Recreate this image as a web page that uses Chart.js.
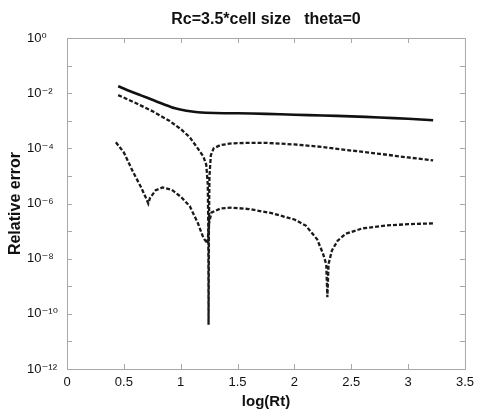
<!DOCTYPE html>
<html>
<head>
<meta charset="utf-8">
<script src="https://cdn.jsdelivr.net/npm/chart.js@4.4.1/dist/chart.umd.min.js"></script>
<style>
html,body{margin:0;padding:0;background:#fff;}
</style>
</head>
<body>
<canvas id="myChart" width="480" height="415"></canvas>
<script>
// x = log(Rt), y values are log10 of the relative error
var xSolid   = [0.45, 0.55, 0.65, 0.75, 0.85, 0.95, 1.05, 1.15, 1.3, 1.5, 1.75, 2.0, 2.25, 2.5, 2.75, 3.0, 3.22];
var logSolid = [-1.75, -1.92, -2.08, -2.24, -2.40, -2.55, -2.64, -2.69, -2.72, -2.73, -2.75, -2.78, -2.81, -2.84, -2.88, -2.93, -2.98];

var xUpper   = [0.45, 0.6, 0.75, 0.9, 1.0, 1.08, 1.15, 1.2, 1.225, 1.238, 1.243, 1.245, 1.248, 1.253, 1.265, 1.29, 1.35, 1.45, 1.6, 1.75, 2.0, 2.25, 2.5, 2.75, 3.0, 3.22];
var logUpper = [-2.07, -2.35, -2.65, -3.0, -3.3, -3.6, -4.0, -4.3, -4.6, -5.3, -7.0, -10.4, -7.0, -5.0, -4.25, -4.0, -3.88, -3.82, -3.8, -3.8, -3.86, -3.95, -4.08, -4.2, -4.33, -4.44];

var xLower   = [0.43, 0.5, 0.58, 0.65, 0.7, 0.715, 0.73, 0.78, 0.84, 0.92, 1.0, 1.08, 1.15, 1.2, 1.235, 1.25, 1.27, 1.35, 1.45, 1.6, 1.8, 2.0, 2.1, 2.2, 2.25, 2.28, 2.29, 2.3, 2.33, 2.38, 2.45, 2.6, 2.8, 3.0, 3.22];
var logLower = [-3.78, -4.15, -4.85, -5.4, -5.85, -6.0, -5.8, -5.52, -5.42, -5.5, -5.75, -6.1, -6.7, -7.25, -7.45, -6.7, -6.33, -6.18, -6.15, -6.2, -6.35, -6.58, -6.8, -7.3, -7.8, -8.2, -9.4, -8.2, -7.7, -7.35, -7.1, -6.9, -6.8, -6.75, -6.72];

var yDecades = [0, -1, -2, -3, -4, -5, -6, -7, -8, -9, -10, -11, -12];
var yLabels  = {'0':'10\u2070', '-2':'10\u207B\u00B2', '-4':'10\u207B\u2074', '-6':'10\u207B\u2076',
                '-8':'10\u207B\u2078', '-10':'10\u207B\u00B9\u2070', '-12':'10\u207B\u00B9\u00B2'};

var FONT = "'Liberation Sans', 'DejaVu Sans', sans-serif";

// turn x / log10 arrays into chart points
var toPoints = function(xs, logs){
	var pts = [];
	for (var i = 0; i < xs.length; i++) {
		pts.push({x: xs[i], y: Math.pow(10, logs[i])});
	}
	return pts;
};

// box round the plot with small inward ticks on all four sides
var boxPlugin = {
	id: 'box',
	beforeDatasetsDraw: function(chart){
		var c = chart.ctx, a = chart.chartArea;
		var xs = chart.scales.x, ys = chart.scales.y;
		c.save();
		c.strokeStyle = '#a8a8a8';
		c.lineWidth = 1;
		c.strokeRect(a.left + 0.5, a.top + 0.5, a.right - a.left, a.bottom - a.top);
		c.beginPath();
		for (var v = 0; v <= 3.5; v += 0.5) {
			var px = Math.round(xs.getPixelForValue(v)) + 0.5;
			c.moveTo(px, a.bottom); c.lineTo(px, a.bottom - 5);
			c.moveTo(px, a.top); c.lineTo(px, a.top + 5);
		}
		yDecades.forEach(function(e){
			var py = Math.round(ys.getPixelForValue(Math.pow(10, e))) + 0.5;
			c.moveTo(a.left, py); c.lineTo(a.left + 5, py);
			c.moveTo(a.right, py); c.lineTo(a.right - 5, py);
		});
		c.stroke();
		c.restore();
	}
};

var ctx = document.getElementById('myChart');
new Chart(ctx, {
	type: 'line',
	data: {
		datasets: [
			{data: toPoints(xSolid, logSolid), borderColor: '#111', borderWidth: 2.6, pointRadius: 0, tension: 0.3},
			{data: toPoints(xUpper, logUpper), borderColor: '#1a1a1a', borderWidth: 2.3, borderDash: [4, 2], pointRadius: 0, tension: 0},
			{data: toPoints(xLower, logLower), borderColor: '#1a1a1a', borderWidth: 2.3, borderDash: [4, 2], pointRadius: 0, tension: 0}
		]
	},
	options: {
		responsive: false,
		animation: false,
		layout: {padding: {left: 27, right: 13, top: 0, bottom: 0}},
		plugins: {
			legend: {display: false},
			tooltip: {enabled: false},
			title: {
				display: true,
				fullSize: false,
				text: 'Rc=3.5*cell size   theta=0',
				color: '#111',
				font: {family: FONT, size: 16, weight: 'bold'},
				padding: {top: 10.4, bottom: 8.4}
			}
		},
		scales: {
			x: {
				type: 'linear',
				min: 0, max: 3.5,
				grid: {display: false, drawTicks: false},
				border: {display: false},
				afterBuildTicks: function(s){
					s.ticks = [0, 0.5, 1, 1.5, 2, 2.5, 3, 3.5].map(function(v){ return {value: v}; });
				},
				ticks: {
					color: '#111', padding: 6, maxRotation: 0, autoSkip: false,
					font: {family: FONT, size: 13},
					callback: function(v){ return String(v); }
				},
				title: {display: true, text: 'log(Rt)', color: '#111',
					font: {family: FONT, size: 15, weight: 'bold'}, padding: {top: 0, bottom: 4}},
				afterFit: function(s){ s.height = 46; }
			},
			y: {
				type: 'logarithmic',
				min: 1e-12, max: 1,
				grid: {display: false, drawTicks: false},
				border: {display: false},
				afterBuildTicks: function(s){
					s.ticks = yDecades.map(function(e){ return {value: Math.pow(10, e)}; });
				},
				ticks: {
					color: '#111', crossAlign: 'far', autoSkip: false,
					font: {family: FONT, size: 13},
					callback: function(v){
						var e = Math.round(Math.log10(v));
						return yLabels[String(e)] || '';
					}
				},
				title: {display: true, text: 'Relative error', color: '#111',
					font: {family: FONT, size: 16, weight: 'bold'}, padding: {top: -20.6, bottom: 0}},
				afterFit: function(s){ s.width = 40; }
			}
		}
	},
	plugins: [boxPlugin]
});
</script>
</body>
</html>
